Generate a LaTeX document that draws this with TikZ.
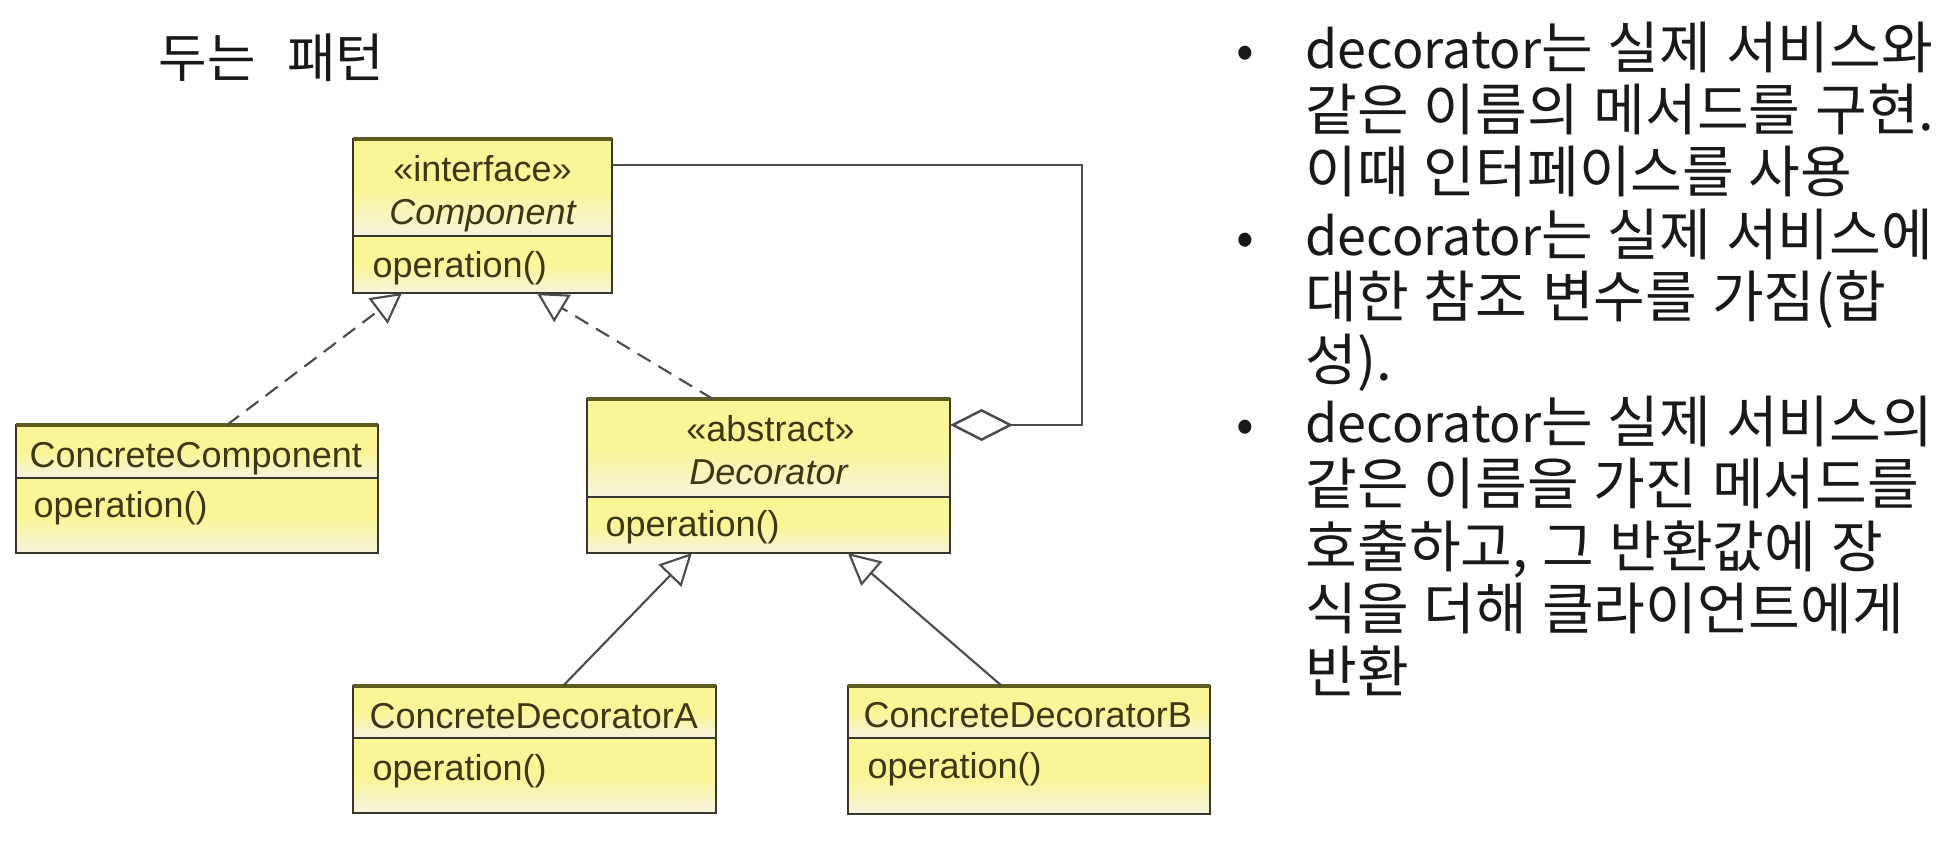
\documentclass[tikz,border=0pt]{standalone}
\usepackage{fontspec}
\setmainfont{Liberation Sans}
\newfontfamily\kr[Scale=1.08]{Noto Sans CJK KR}
\newfontfamily\krlat{Noto Sans CJK KR}
\newfontfamily\krtitle{Noto Sans CJK KR}
\usetikzlibrary{arrows.meta,calc}
\definecolor{umlyellow}{RGB}{250,245,150}
\definecolor{umlpale}{RGB}{246,244,222}
\definecolor{umlborder}{RGB}{55,55,45}
\definecolor{umltop}{RGB}{95,90,30}
\definecolor{umltext}{RGB}{60,55,20}
\definecolor{linegray}{RGB}{75,75,75}
\definecolor{bodytext}{RGB}{25,25,25}
\begin{document}
\begin{tikzpicture}[x=0.01cm,y=-0.01cm,
  compart/.style={draw=umlborder, line width=0.7pt, inner sep=0pt, outer sep=0pt,
    top color=umlyellow, bottom color=umlpale, middle color=umlyellow},
  topedge/.style={draw=umltop, line width=1.2pt},
  umltxt/.style={inner sep=0pt, text=umltext, font=\fontsize{10.24pt}{12pt}\selectfont},
  umlit/.style={inner sep=0pt, text=umltext, font=\fontsize{10.24pt}{12pt}\selectfont\itshape},
  kline/.style={inner sep=0pt, anchor=base west, text=bodytext,
    font=\kr\fontsize{14.8pt}{17.75pt}\selectfont,
    execute at begin node={\spaceskip=4.2pt\relax}},
  bul/.style={inner sep=0pt, anchor=base, text=bodytext, font=\krlat\fontsize{14.8pt}{17.75pt}\selectfont},
  titlesty/.style={inner sep=0pt, anchor=base, text=bodytext,
    font=\krtitle\fontsize{15pt}{18pt}\selectfont,
    execute at begin node={\spaceskip=9pt\relax}},
  realize/.style={draw=linegray, line width=0.6pt, dash pattern=on 4.3pt off 2.6pt,
    -{Triangle[open, length=8.5pt, width=9pt, line width=0.6pt]}},
  generalize/.style={draw=linegray, line width=0.6pt,
    -{Triangle[open, length=9pt, width=9pt, line width=0.6pt]}},
  aggr/.style={draw=linegray, line width=0.7pt,
    {Diamond[open, length=17.9pt, width=9.1pt, line width=0.7pt]}-}
]
\useasboundingbox (0,0) rectangle (1936,866);
\fill[white] (0,0) rectangle (1936,866);

% title
\node[titlesty] (title) at (271.5,77) {두는 패턴};

% bullet text
\node[bul] (u1) at (1245,68) {•};
\node[kline] (l1) at (1305,68) {{\krlat decorator}는 실제 서비스와};
\node[kline] (l2) at (1305,130.4) {같은 이름의 메서드를 구현.};
\node[kline] (l3) at (1305,192.8) {이때 인터페이스를 사용};
\node[bul] (u2) at (1245,255.2) {•};
\node[kline] (l4) at (1305,255.2) {{\krlat decorator}는 실제 서비스에};
\node[kline] (l5) at (1305,317.6) {대한 참조 변수를 가짐(합};
\node[kline] (l6) at (1305,380) {성).};
\node[bul] (u3) at (1245,442.4) {•};
\node[kline] (l7) at (1305,442.4) {{\krlat decorator}는 실제 서비스의};
\node[kline] (l8) at (1305,504.8) {같은 이름을 가진 메서드를};
\node[kline] (l9) at (1305,567.2) {호출하고, 그 반환값에 장};
\node[kline] (l10) at (1305,629.6) {식을 더해 클라이언트에게};
\node[kline] (l11) at (1305,692) {반환};

% class compartments
\node[compart, minimum width=2.59cm, minimum height=0.97cm] (cN) at (482.5,187.5) {};
\node[compart, minimum width=2.59cm, minimum height=0.57cm] (cO) at (482.5,264.5) {};
\node[compart, minimum width=3.62cm, minimum height=0.53cm] (ccN) at (197,451.5) {};
\node[compart, minimum width=3.62cm, minimum height=0.75cm] (ccO) at (197,515.5) {};
\node[compart, minimum width=3.63cm, minimum height=0.98cm] (dN) at (768.5,448) {};
\node[compart, minimum width=3.63cm, minimum height=0.56cm] (dO) at (768.5,525) {};
\node[compart, minimum width=3.63cm, minimum height=0.52cm] (aN) at (534.5,712) {};
\node[compart, minimum width=3.63cm, minimum height=0.75cm] (aO) at (534.5,775.5) {};
\node[compart, minimum width=3.62cm, minimum height=0.52cm] (bN) at (1029,712) {};
\node[compart, minimum width=3.62cm, minimum height=0.76cm] (bO) at (1029,776) {};

\draw[topedge] (cN.north west) -- (cN.north east);
\draw[topedge] (ccN.north west) -- (ccN.north east);
\draw[topedge] (dN.north west) -- (dN.north east);
\draw[topedge] (aN.north west) -- (aN.north east);
\draw[topedge] (bN.north west) -- (bN.north east);

% class texts
\node[umltxt, anchor=base] (cSt) at ($(cN.north)+(0,43)$) {«interface»};
\node[umlit, anchor=base] (cNm) at ($(cN.north)+(0,86)$) {Component};
\node[umltxt, anchor=base west] (cOp) at ($(cO.north west)+(19,42)$) {operation()};
\node[umltxt, anchor=base west] (ccNm) at ($(ccN.north west)+(13,43)$) {ConcreteComponent};
\node[umltxt, anchor=base west] (ccOp) at ($(ccO.north west)+(17,40)$) {operation()};
\node[umltxt, anchor=base] (dSt) at ($(dN.north)+(2,43)$) {«abstract»};
\node[umlit, anchor=base] (dNm) at ($(dN.north)+(0,86)$) {Decorator};
\node[umltxt, anchor=base west] (dOp) at ($(dO.north west)+(18,40)$) {operation()};
\node[umltxt, anchor=base west] (aNm) at ($(aN.north west)+(16,42)$) {ConcreteDecoratorA};
\node[umltxt, anchor=base west] (aOp) at ($(aO.north west)+(19,43)$) {operation()};
\node[umltxt, anchor=base west] (bNm) at ($(bN.north west)+(15,41)$) {ConcreteDecoratorB};
\node[umltxt, anchor=base west] (bOp) at ($(bO.north west)+(19,41)$) {operation()};

% connectors
\draw[realize] ($(ccN.north west)+(211,0)$) -- ($(cO.south west)+(49,0)$);
\draw[realize] ($(dN.north west)+(126,0)$) -- ($(cO.south west)+(184,0)$);
\draw[generalize] ($(aN.north west)+(210,0)$) -- ($(dO.south west)+(105,0)$);
\draw[generalize] ($(bN.north west)+(154,0)$) -- ($(dO.south west)+(261,0)$);
\draw[aggr] ($(dN.north east)+(0,26)$) -- ($(dN.north east)+(132,26)$) |- ($(cN.north east)+(0,26)$);
\end{tikzpicture}
\end{document}
